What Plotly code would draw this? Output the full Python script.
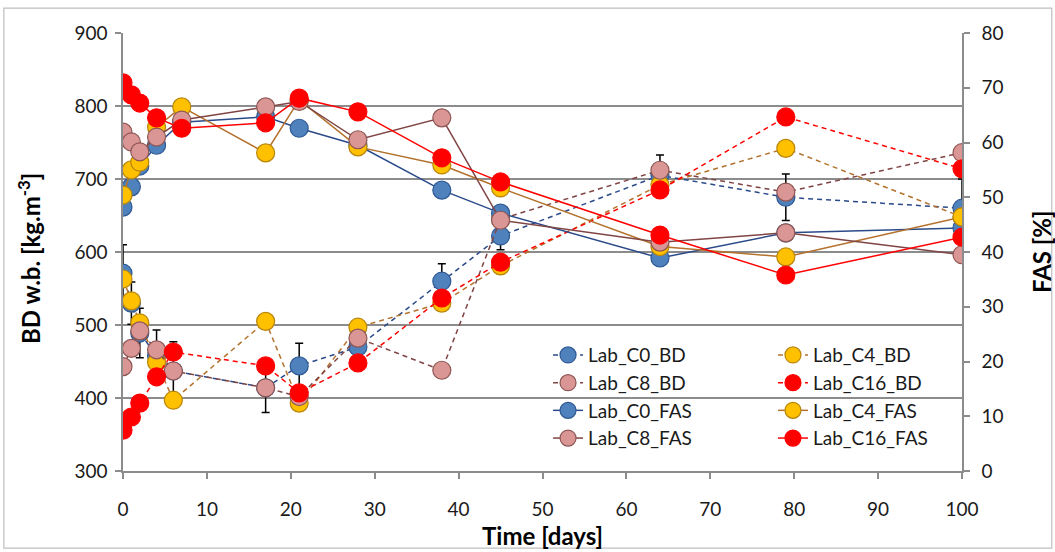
import plotly.graph_objects as go

days_bd = [0, 1, 2, 4, 6, 17, 21, 28, 38, 45, 64, 79, 100]
days_fas = [0, 1, 2, 4, 7, 17, 21, 28, 38, 45, 64, 79, 100]

c0_bd = [571, 530, 489, 458, 437, 414, 444, 470, 560, 622, 705, 675, 660]
c0_bd_err = [39, 29, 34, 35, 40, 34, 31, 10, 24, 19, 28, 32, 40]
c4_bd = [563, 533, 503, 449, 397, 505, 393, 497, 530, 581, 692, 742, 648]
c8_bd = [443, 468, 492, 466, 437, 414, 402, 482, 438, 645, 712, 682, 736]
c16_bd = [356, 374, 393, 429, 463, 444, 407, 448, 537, 586, 685, 785, 714]

c0_fas = [48.2, 51.9, 55.7, 59.5, 63.7, 64.7, 62.6, 59.5, 51.3, 47.1, 38.9, 43.5, 44.4]
c4_fas = [50.4, 55.0, 56.4, 62.8, 66.5, 58.1, 67.8, 59.2, 55.9, 51.7, 41.0, 39.1, 46.4]
c8_fas = [61.9, 60.1, 58.3, 61.0, 64.1, 66.5, 67.5, 60.5, 64.5, 45.8, 41.8, 43.5, 39.5]
c16_fas = [70.9, 68.7, 67.2, 64.5, 62.6, 63.6, 68.1, 65.6, 57.2, 52.8, 43.1, 35.8, 42.7]

FONT = "Lato"
styles = {
    "C0": dict(fill="#4F81BD", edge="#2F5A94", line="#2B4A8A"),
    "C4": dict(fill="#FFC000", edge="#B8860B", line="#B3712C"),
    "C8": dict(fill="#D99694", edge="#8E5654", line="#7F4443"),
    "C16": dict(fill="#FF0000", edge="#FF0000", line="#FF0000"),
}

fig = go.Figure()

def add(name, key, x, y, dashed, yaxis, legend, err=None):
    s = styles[key]
    tr = go.Scatter(
        x=x, y=y, name=name, mode="lines+markers",
        line=dict(color=s["line"], width=1.5, dash="5px,4px" if dashed else "solid"),
        marker=dict(size=18, color=s["fill"], line=dict(color=s["edge"], width=1.2)),
        yaxis=yaxis, legend=legend,
    )
    if err is not None:
        tr.error_y = dict(type="data", array=err, visible=True, color="black",
                          thickness=1.5, width=4)
    fig.add_trace(tr)

add("Lab_C0_BD", "C0", days_bd, c0_bd, True, "y", "legend", c0_bd_err)
add("Lab_C4_BD", "C4", days_bd, c4_bd, True, "y", "legend2")
add("Lab_C8_BD", "C8", days_bd, c8_bd, True, "y", "legend")
add("Lab_C16_BD", "C16", days_bd, c16_bd, True, "y", "legend2")
add("Lab_C0_FAS", "C0", days_fas, c0_fas, False, "y2", "legend")
add("Lab_C4_FAS", "C4", days_fas, c4_fas, False, "y2", "legend2")
add("Lab_C8_FAS", "C8", days_fas, c8_fas, False, "y2", "legend")
add("Lab_C16_FAS", "C16", days_fas, c16_fas, False, "y2", "legend2")

axis_col = "#8C8C8C"
tickfont = dict(family=FONT, size=19, color="#1a1a1a")
legfont = dict(family=FONT, size=19, color="#1a1a1a")

fig.update_layout(
    width=1055, height=552,
    margin=dict(l=123, r=93, t=33, b=81),
    paper_bgcolor="white", plot_bgcolor="white",
    font=dict(family=FONT, color="#1a1a1a"),
    xaxis=dict(range=[0, 100], dtick=10, showgrid=False, zeroline=False,
               showline=True, linecolor=axis_col, linewidth=1.5,
               ticks="outside", ticklen=6, tickcolor=axis_col, tickwidth=1.5,
               ticklabelstandoff=14, tickfont=tickfont),
    yaxis=dict(range=[300, 900], dtick=100, showgrid=True, gridcolor=axis_col,
               gridwidth=1.5, zeroline=False, showline=True, linecolor=axis_col,
               linewidth=1.5, ticks="outside", ticklen=6, tickcolor=axis_col,
               tickwidth=1.5, ticklabelstandoff=4, tickfont=tickfont),
    yaxis2=dict(range=[0, 80], dtick=10, overlaying="y", side="right",
                showgrid=False, zeroline=False, showline=True, linecolor=axis_col,
                linewidth=1.5, ticks="outside", ticklen=6, tickcolor=axis_col,
                tickwidth=1.5, ticklabelstandoff=8, tickfont=tickfont),
    legend=dict(x=0.5066, y=0.308, xanchor="left", yanchor="top",
                bgcolor="rgba(0,0,0,0)", font=legfont, tracegroupgap=0, itemwidth=30),
    legend2=dict(x=0.7747, y=0.308, xanchor="left", yanchor="top",
                 bgcolor="rgba(0,0,0,0)", font=legfont, tracegroupgap=0, itemwidth=30),
    showlegend=True,
)

title_font = dict(family=FONT, size=24, color="black", weight="bold")
fig.add_annotation(text="Time [days]", xref="paper", yref="paper", x=0.5, y=0,
                   yshift=-64, showarrow=False, xanchor="center", yanchor="middle",
                   font=title_font)
fig.add_annotation(text="BD w.b. [kg.m<sup>-3</sup>]", xref="paper", yref="paper",
                   x=0, y=0.5, xshift=-94, yshift=-7, textangle=-90, showarrow=False,
                   xanchor="center", yanchor="middle", font=title_font)
fig.add_annotation(text="FAS [%]", xref="paper", yref="paper", x=1, y=0.5,
                   xshift=79, textangle=-90, showarrow=False,
                   xanchor="center", yanchor="middle", font=title_font)

fig.add_shape(type="rect", xref="paper", yref="paper",
              x0=-0.142, x1=1.107, y0=-0.176, y1=1.057,
              line=dict(color="#BFBFBF", width=1.2), fillcolor="rgba(0,0,0,0)",
              layer="below")

fig.write_html("out.html")
